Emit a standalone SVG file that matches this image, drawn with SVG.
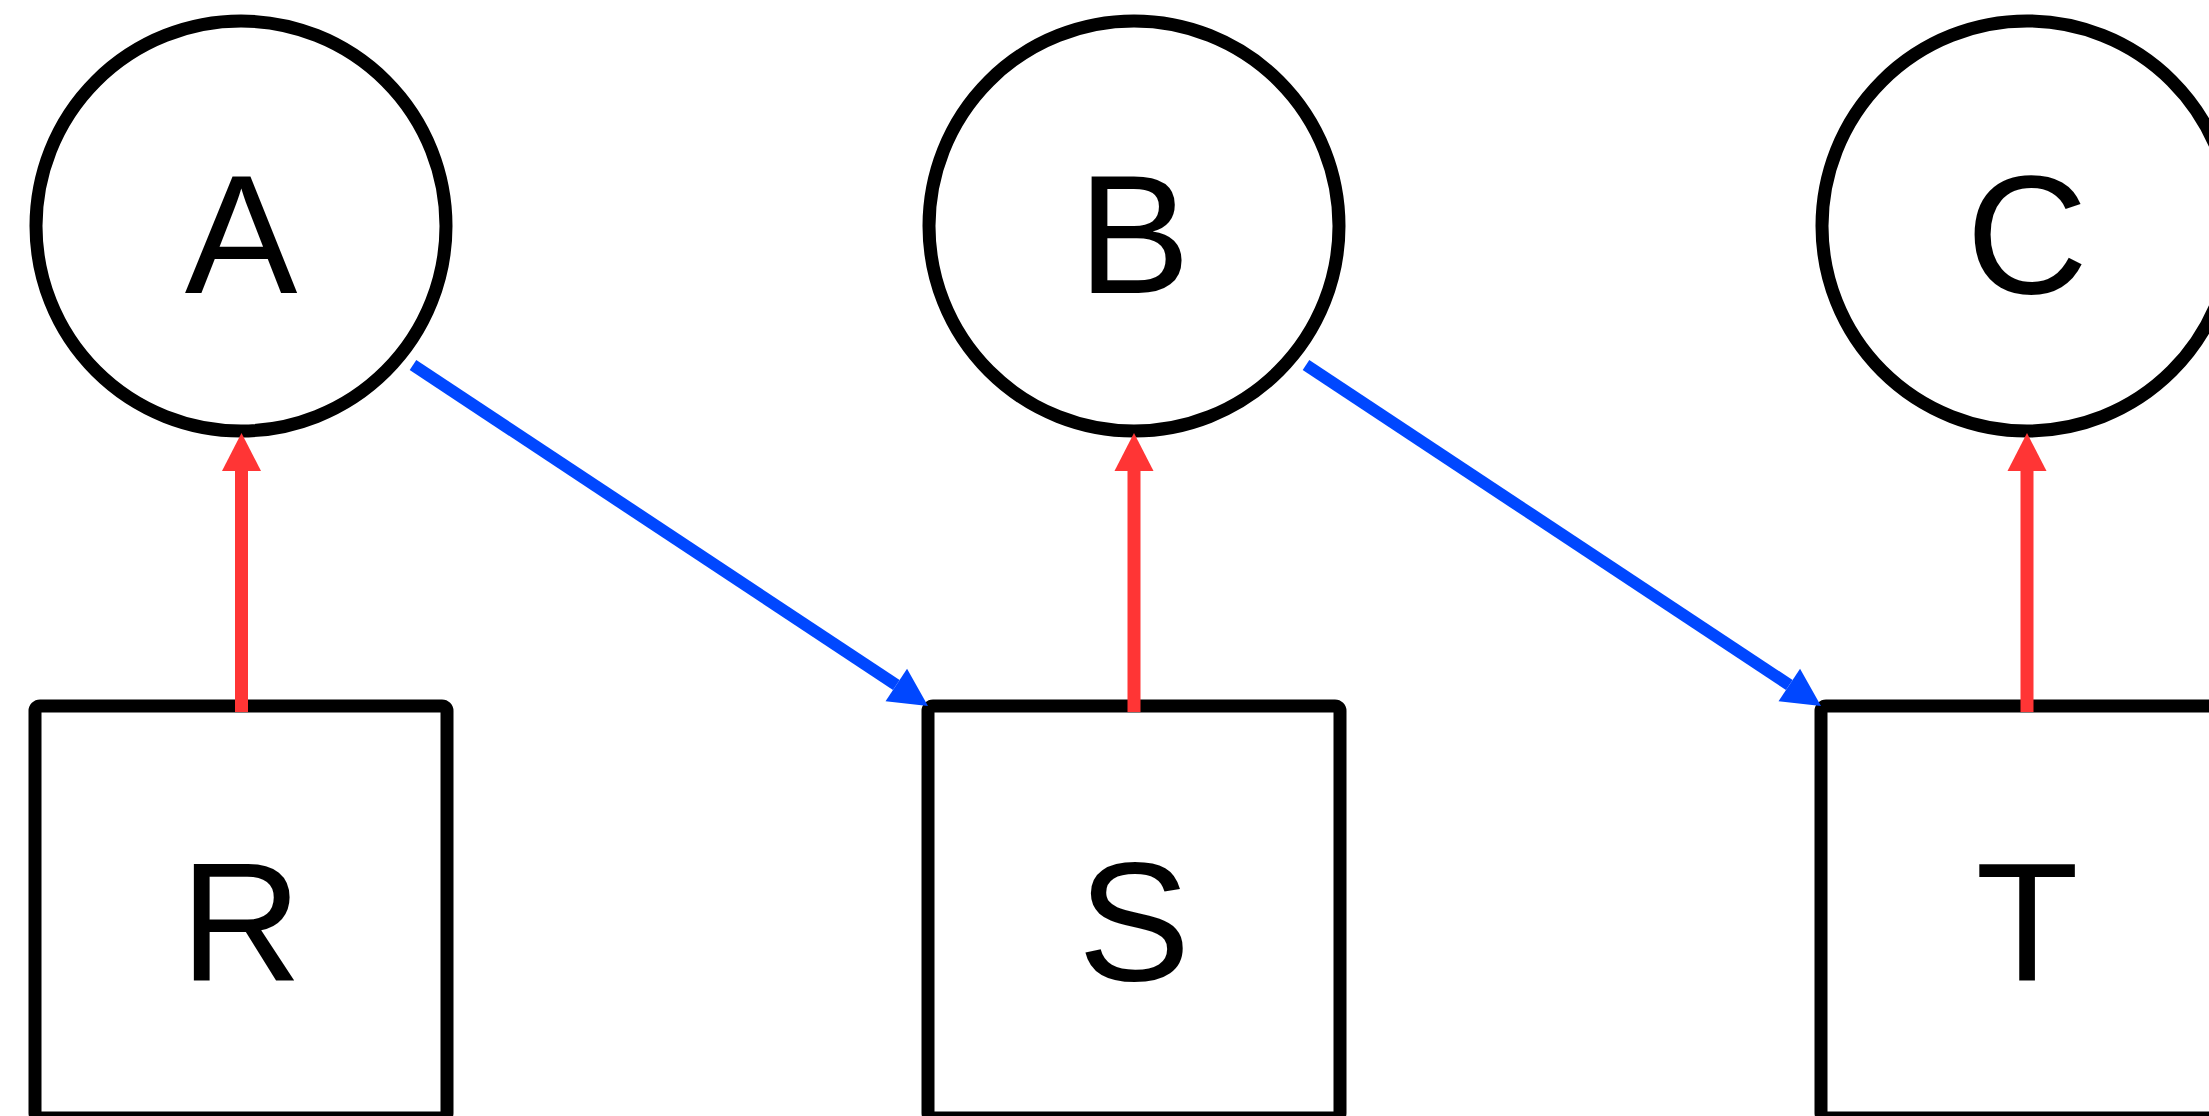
<svg xmlns="http://www.w3.org/2000/svg" width="2209" height="1116" viewBox="0 0 2209 1116">
<style>
.circ{fill:#ffffff;stroke:#000000;stroke-width:13}
.box{fill:#ffffff;stroke:#000000;stroke-width:13}
.lbl{font-family:"Liberation Sans",Arial,sans-serif;font-size:169px;fill:#000000;text-anchor:middle}
.red{stroke:#ff3535;stroke-width:13;fill:none}
.blue{stroke:#0047ff;stroke-width:12;fill:none}
</style>
<defs>
<marker id="hr" markerUnits="userSpaceOnUse" markerWidth="40" markerHeight="40" refX="0" refY="19.5" orient="auto" overflow="visible">
<path d="M0,0 L38,19.5 L0,39 Z" fill="#ff3535"/>
</marker>
<marker id="hb" markerUnits="userSpaceOnUse" markerWidth="40" markerHeight="40" refX="0" refY="19.5" orient="auto" overflow="visible">
<path d="M0,0 L38,19.5 L0,39 Z" fill="#0047ff"/>
</marker>
</defs>
<rect width="2209" height="1116" fill="#ffffff"/>
<g id="node-A"><circle class="circ" cx="241" cy="226" r="205"/><text class="lbl" x="241" y="293">A</text></g>
<g id="node-B"><circle class="circ" cx="1134" cy="226" r="205"/><text class="lbl" x="1134" y="293">B</text></g>
<g id="node-C"><circle class="circ" cx="2027" cy="226" r="205"/><text class="lbl" x="2027" y="293">C</text></g>
<g id="node-R"><rect class="box" x="35" y="706" width="412" height="412" rx="5"/><text class="lbl" x="241" y="980">R</text></g>
<g id="node-S"><rect class="box" x="928" y="706" width="412" height="412" rx="5"/><text class="lbl" x="1134" y="980">S</text></g>
<g id="node-T"><rect class="box" x="1821" y="706" width="412" height="412" rx="5"/><text class="lbl" x="2027" y="980">T</text></g>
<g id="connectors">
<line class="red" x1="241.5" y1="712" x2="241.5" y2="471" marker-end="url(#hr)"/>
<line class="red" x1="1134" y1="712" x2="1134" y2="471" marker-end="url(#hr)"/>
<line class="red" x1="2027" y1="712" x2="2027" y2="471" marker-end="url(#hr)"/>
<line class="blue" x1="413" y1="365" x2="896.3" y2="685" marker-end="url(#hb)"/>
<line class="blue" x1="1306" y1="365" x2="1789.3" y2="685" marker-end="url(#hb)"/>
</g>
</svg>
